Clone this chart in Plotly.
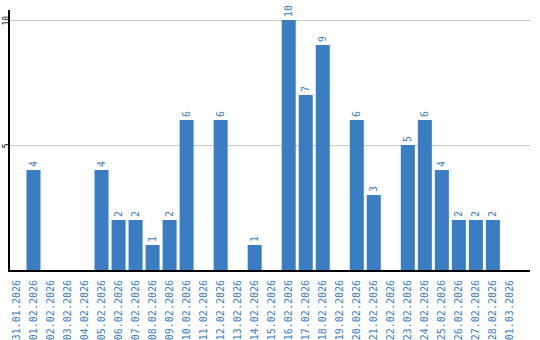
import plotly.graph_objects as go

dates = ["31.01.2026", "01.02.2026", "02.02.2026", "03.02.2026", "04.02.2026", "05.02.2026",
         "06.02.2026", "07.02.2026", "08.02.2026", "09.02.2026", "10.02.2026", "11.02.2026",
         "12.02.2026", "13.02.2026", "14.02.2026", "15.02.2026", "16.02.2026", "17.02.2026",
         "18.02.2026", "19.02.2026", "20.02.2026", "21.02.2026", "22.02.2026", "23.02.2026",
         "24.02.2026", "25.02.2026", "26.02.2026", "27.02.2026", "28.02.2026", "01.03.2026"]
values = [0, 4, 0, 0, 0, 4, 2, 2, 1, 2, 6, 0, 6, 0, 1, 0, 10, 7, 9, 0, 6, 3, 0, 5, 6, 4, 2, 2, 2, 0]
y_ticks = [5, 10]

blue = "#3b7dc2"
labels = [str(v) if v > 0 else "" for v in values]

fig = go.Figure(go.Bar(
    x=list(range(len(dates))), y=values, text=labels, textposition="outside",
    textangle=-90, cliponaxis=False,
    textfont=dict(family="DejaVu Sans Mono", size=10, color=blue),
    marker=dict(color=blue, line=dict(width=0)), width=14/17,
))

fig.update_layout(
    width=540, height=340, margin=dict(l=10, r=10, t=10, b=70, autoexpand=False),
    paper_bgcolor="white", plot_bgcolor="white", showlegend=False,
    xaxis=dict(tickmode="array", tickvals=list(range(len(dates))), ticktext=dates,
               tickangle=-90, range=[-0.38, 30.18], showgrid=False, automargin=False,
               showline=True, linecolor="black", linewidth=2, ticks="", ticklabelstandoff=4,
               tickfont=dict(family="DejaVu Sans Mono", size=10, color=blue)),
    yaxis=dict(range=[0, 10.4], tickvals=y_ticks, showgrid=True, gridcolor="#c8c8c8",
               gridwidth=1, zeroline=False, showline=True, linecolor="black", linewidth=2,
               tickangle=-90, ticks="", ticklabelstandoff=-4, ticklabelshift=2,
               automargin=False,
               tickfont=dict(family="DejaVu Sans Mono", size=8, color="black")),
)

fig.write_html("out.html")
